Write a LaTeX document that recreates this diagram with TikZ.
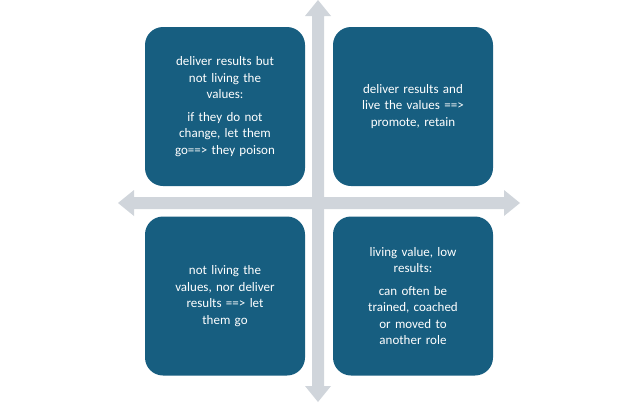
\documentclass[tikz,border=0pt]{standalone}
\usepackage{fontspec}
\setmainfont{Carlito}
\begin{document}
\begin{tikzpicture}[x=1pt,y=-1pt,
  quad/.style={fill=boxblue,rounded corners=18pt,minimum width=160pt,minimum height=159pt,
    text=white,align=center,text width=148pt,font=\fontsize{13}{16.5}\selectfont},
  arr/.style={fill=arrgray,draw=none}]
\definecolor{boxblue}{HTML}{175E80}
\definecolor{arrgray}{HTML}{D0D5DB}
\useasboundingbox (0,0) rectangle (637,402);
% vertical double arrow
\fill[arr] (318,0) -- (331,16) -- (324,16) -- (324,386) -- (331,386) -- (318,402) -- (305,386) -- (312,386) -- (312,16) -- (305,16) -- cycle;
% horizontal double arrow
\fill[arr] (118,203) -- (134,190) -- (134,197) -- (504,197) -- (504,190) -- (520,203) -- (504,216) -- (504,209) -- (134,209) -- (134,216) -- cycle;
\node[quad] (tl) at (225,106.5) {deliver results but\\ not living the\\ values:\\[6pt] if they do not\\ change, let them\\ go==> they poison};
\node[quad] (tr) at (413,106.5) {deliver results and\\ live the values ==>\\ promote, retain};
\node[quad] (bl) at (225,296) {not living the\\ values, nor deliver\\ results ==> let\\ them go};
\node[quad] (br) at (413,296) {living value, low\\ results:\\[6pt] can often be\\ trained, coached\\ or moved to\\ another role};
\end{tikzpicture}
\end{document}
